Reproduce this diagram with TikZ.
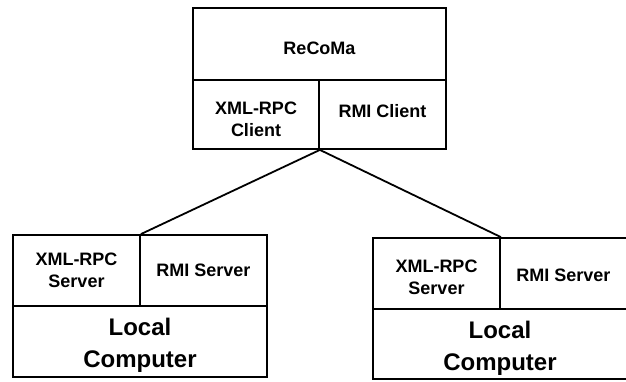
\documentclass[tikz,border=0pt]{standalone}
\usepackage{fontspec}
\setmainfont{Liberation Sans}
% invisible strut, pushes a cell's text down (or up with a depth)
\newcommand{\padtop}[1]{\rule{0pt}{#1}}
\newcommand{\padbot}[1]{\rule[-#1]{0pt}{#1}}

\begin{document}
\begin{tikzpicture}[x=1pt, y=-1pt,
  cell/.style={rectangle, draw, line width=1.8pt, align=center, inner sep=0pt,
    font=\fontsize{18}{22}\selectfont\bfseries},
  host/.style={cell, font=\fontsize{24}{32}\selectfont\bfseries}]
\useasboundingbox (0,0) rectangle (626,381);

% client side
\node[cell, minimum width = 253pt, minimum height = 72pt](recoma) at (319.5,44){\padtop{22pt}ReCoMa};
\node[cell, minimum width = 126pt, minimum height = 69pt](xmlcli) at (256,114.5){\padtop{23pt}XML-RPC\\Client};
\node[cell, minimum width = 127pt, minimum height = 69pt](rmicli) at (382.5,114.5){\padbot{8pt}RMI Client};

% first computer
\node[cell, minimum width = 127pt, minimum height = 71pt](xmlsrv1) at (76.5,270.5){XML-RPC\\Server};
\node[cell, minimum width = 127pt, minimum height = 71pt](rmisrv1) at (203.5,270.5){RMI Server};
\node[host, minimum width = 254pt, minimum height = 71pt](local1) at (140,341.5){\padtop{24pt}Local\\Computer};

% second computer
\node[cell, minimum width = 127pt, minimum height = 71pt](xmlsrv2) at (436.5,273.5){\padtop{21pt}XML-RPC\\Server};
\node[cell, minimum width = 127pt, minimum height = 71pt](rmisrv2) at (563.5,273.5){\padtop{16pt}RMI Server};
\node[host, minimum width = 254pt, minimum height = 70pt](local2) at (500,344){\padtop{26.5pt}Local\\Computer};

\draw[line width=1.8pt] (xmlcli.south east) -- (xmlsrv1.north east);
\draw[line width=1.8pt] (xmlcli.south east) -- (xmlsrv2.north east);

\end{tikzpicture}
\end{document}
